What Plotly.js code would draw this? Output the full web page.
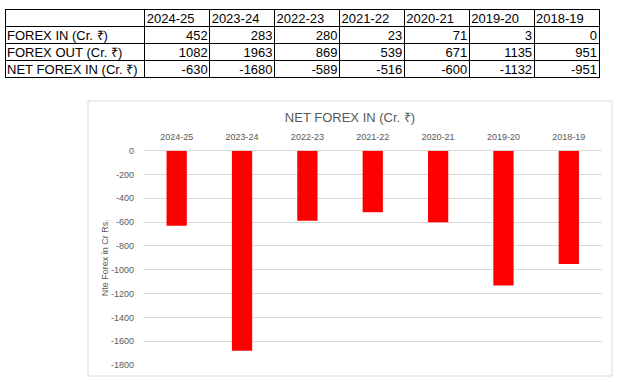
<!DOCTYPE html>
<html>
<head>
<meta charset="utf-8">
<script src="https://cdn.plot.ly/plotly-3.0.1.min.js"></script>
<style>
html,body{margin:0;padding:0;background:#fff;}
#chart{width:618px;height:382px;}
/* Plotly pads table text 8px; the reference sits ~2px from the borders and is vertically centred */
.cell-text{transform:translate(6px,-4px);}
.cell-text-holder[transform^="translate(8,"] .cell-text{transform:translate(-6px,-4px);}
</style>
</head>
<body>
<div id="chart"></div>
<script>
// ---- data ----
const years = ["2024-25", "2023-24", "2022-23", "2021-22", "2020-21", "2019-20", "2018-19"];
const rowLabels = ["FOREX IN (Cr. ₹)", "FOREX OUT (Cr. ₹)", "NET FOREX IN (Cr. ₹)"];
const forexIn = [452, 283, 280, 23, 71, 3, 0];
const forexOut = [1082, 1963, 869, 539, 671, 1135, 951];
const netForexIn = [-630, -1680, -589, -516, -600, -1132, -951];
const yTickVals = [0, -200, -400, -600, -800, -1000, -1200, -1400, -1600, -1800];
const yTickText = ["0", "-200", "-400", "-600", "-800", "-1000", "-1200", "-1400", "-1600", "-1800"];

const W = 618, H = 382;
const font = "Liberation Sans, Arial, sans-serif";

// keep labels on one line (Plotly tables wrap at ordinary spaces)
const noWrap = s => s.replace(/ /g, "\u00a0");

// table columns
const headerVals = [""].concat(years);
const cellCols = [rowLabels.map(noWrap)];
for (let i = 0; i < years.length; i++) {
  cellCols.push([forexIn[i], forexOut[i], netForexIn[i]].map(String));
}
const colWidths = [140].concat(years.map(() => 65));
const aligns = ["left"].concat(years.map(() => "right"));

const table = {
  type: "table",
  domain: {x: [5 / W, 599 / W], y: [1 - 80 / H, 1 - 9 / H]},
  columnwidth: colWidths,
  header: {
    values: headerVals,
    align: "left",
    height: 17,
    line: {color: "#000", width: 1},
    fill: {color: "#fff"},
    font: {family: font, size: 13, color: "#000"}
  },
  cells: {
    values: cellCols,
    align: aligns,
    height: 17,
    line: {color: "#000", width: 1},
    fill: {color: "#fff"},
    font: {family: font, size: 13, color: "#000"}
  }
};

const bars = {
  type: "bar",
  x: years,
  y: netForexIn,
  marker: {color: "#ff0000"},
  hoverinfo: "x+y"
};

const layout = {
  width: W, height: H,
  margin: {l: 0, r: 0, t: 0, b: 0, pad: 0},
  paper_bgcolor: "#fff",
  plot_bgcolor: "#fff",
  showlegend: false,
  bargap: 0.69,
  title: {
    text: "NET FOREX IN (Cr. ₹)",
    x: 350 / W, xanchor: "center", xref: "paper",
    y: 1 - 117 / H, yanchor: "middle",
    font: {family: font, size: 13, color: "#595959"}
  },
  xaxis: {
    domain: [144 / W, 601.5 / W],
    side: "top",
    type: "category",
    showgrid: false,
    showline: false,
    zeroline: false,
    ticks: "",
    tickfont: {family: font, size: 9, color: "#595959"},
    ticklabelstandoff: 8
  },
  yaxis: {
    domain: [1 - 365 / H, 1 - 150.7 / H],
    range: [-1800, 0],
    tickvals: yTickVals,
    ticktext: yTickText,
    showgrid: true,
    gridcolor: "#d9d9d9",
    gridwidth: 1,
    zeroline: true,
    zerolinecolor: "#d9d9d9",
    zerolinewidth: 1,
    showline: false,
    ticks: "",
    ticklabelstandoff: 9,
    tickfont: {family: font, size: 9, color: "#595959"},
    title: {text: "Nte Forex in Cr Rs.", standoff: 0, font: {family: font, size: 9, color: "#595959"}}
  },
  shapes: [{
    type: "rect", xref: "paper", yref: "paper",
    x0: 88 / W, x1: 612 / W,
    y0: 1 - 376 / H, y1: 1 - 101 / H,
    line: {color: "#d9d9d9", width: 1}, fillcolor: "rgba(0,0,0,0)", layer: "below"
  }]
};

Plotly.newPlot("chart", [bars, table], layout, {displayModeBar: false, staticPlot: true});
</script>
</body>
</html>
